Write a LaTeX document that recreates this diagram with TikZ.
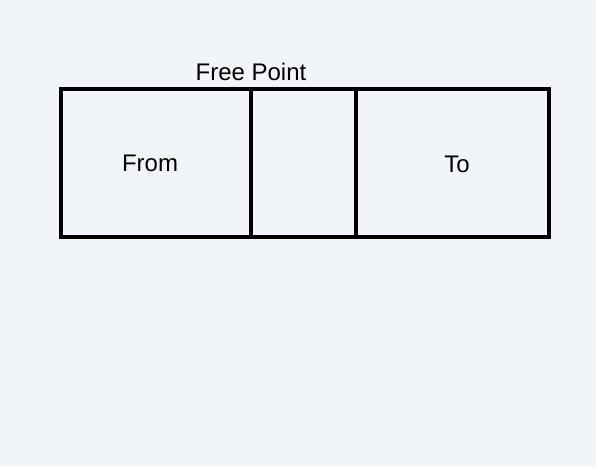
\documentclass[tikz,border=0pt]{standalone}
\usepackage{fontspec}
\setmainfont{Liberation Sans}
\usetikzlibrary{positioning}
\definecolor{bgpanel}{RGB}{241,244,248}

\begin{document}
\begin{tikzpicture}[x=1pt,y=-1pt]
			\tikzstyle{cell}=[draw=black,line width=4pt,minimum height=148pt,inner sep=0pt,outer sep=0pt]
			\tikzstyle{label}=[font=\fontsize{24}{28}\selectfont]
			\fill[bgpanel] (0,0) rectangle (596,466);
			\useasboundingbox (0,0) rectangle (596,466);
			
			\node[cell,minimum width=190pt] (from) at (156,163) {};
			\node[cell,minimum width=105pt,right=0pt of from] (free) {};
			\node[cell,minimum width=193pt,right=0pt of free] (to) {};
			\node[label] (fromtext) at (150,163) {From};
			\node[label] (totext) at (457,164) {To};
			\node[label,above=5pt of free.north west] (freetext) {Free Point};
			\end{tikzpicture}
\end{document}
